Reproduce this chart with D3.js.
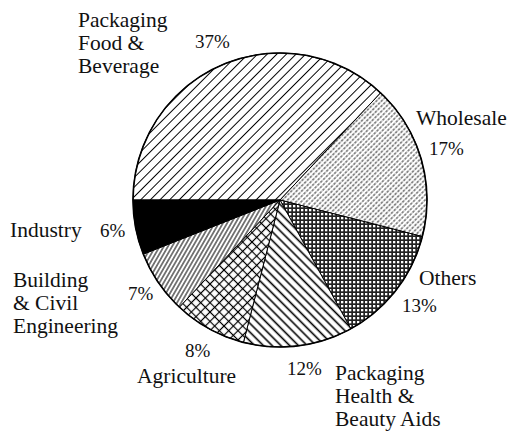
<!DOCTYPE html>
<html>
<head>
<meta charset="utf-8">
<script src="https://cdn.jsdelivr.net/npm/d3@7"></script>
<style>
  html, body { margin: 0; padding: 0; background: #fff; }
  svg { display: block; }
  text { font-family: "Liberation Serif", "Times New Roman", serif; fill: #111; }
</style>
</head>
<body>
<svg id="chart" width="512" height="433"></svg>
<script>
// Market share by end use (%)
const categories = [
  "Packaging Food & Beverage",
  "Wholesale",
  "Others",
  "Packaging Health & Beauty Aids",
  "Agriculture",
  "Building & Civil Engineering",
  "Industry"
];
const shares = [37, 17, 13, 12, 8, 7, 6];
const nameLines = [
  ["Packaging", "Food &", "Beverage"],
  ["Wholesale"],
  ["Others"],
  ["Packaging", "Health &", "Beauty Aids"],
  ["Agriculture"],
  ["Building", "& Civil", "Engineering"],
  ["Industry"]
];
const fills = ["diagFwd", "dashFwd", "checker", "diagBack", "crossHatch", "diagSteep", "solid"];

// Where each name block and each percentage sits, relative to the pie centre
const labelLayout = [
  { name: [-202, -173], pct: [-85, -152] },
  { name: [136, -75],   pct: [149, -45] },
  { name: [139, 85],    pct: [122, 112] },
  { name: [55, 180],    pct: [7, 175] },
  { name: [-143, 183],  pct: [-95, 157] },
  { name: [-267, 87],   pct: [-152, 100] },
  { name: [-270, 37],   pct: [-180, 37] }
];

const svg = d3.select("#chart");
const cx = 280, cy = 200, radius = 147;
const lineStep = 23;

// Hatch patterns
const defs = svg.append("defs");
function linePattern(id, spacing, angle, width, dash) {
  const p = defs.append("pattern")
    .attr("id", id)
    .attr("patternUnits", "userSpaceOnUse")
    .attr("width", spacing).attr("height", spacing)
    .attr("patternTransform", `rotate(${angle})`);
  p.append("rect").attr("width", spacing).attr("height", spacing).attr("fill", "#fff");
  const l = p.append("line")
    .attr("x1", spacing / 2).attr("y1", -1)
    .attr("x2", spacing / 2).attr("y2", spacing + 1)
    .attr("stroke", "#000").attr("stroke-width", width);
  if (dash) l.attr("stroke-dasharray", dash);
  return p;
}
linePattern("diagFwd", 6.8, 45, 1);
linePattern("diagBack", 6.2, -45, 1.6);
linePattern("diagSteep", 3.6, 30, 1);
{
  const p = defs.append("pattern")
    .attr("id", "dashFwd").attr("patternUnits", "userSpaceOnUse")
    .attr("width", 3.6).attr("height", 4).attr("patternTransform", "rotate(45)");
  p.append("rect").attr("width", 3.6).attr("height", 4).attr("fill", "#fff");
  p.append("line").attr("x1", 1.8).attr("y1", 0.4).attr("x2", 1.8).attr("y2", 3.2)
    .attr("stroke", "#222").attr("stroke-width", 1);
}
{
  const p = defs.append("pattern")
    .attr("id", "checker").attr("patternUnits", "userSpaceOnUse")
    .attr("width", 4).attr("height", 4);
  p.append("rect").attr("width", 4).attr("height", 4).attr("fill", "#222");
  p.append("rect").attr("x", 1).attr("y", 1).attr("width", 2.3).attr("height", 2.3).attr("fill", "#fff");
}
{
  const s = 6.6;
  const p = defs.append("pattern")
    .attr("id", "crossHatch").attr("patternUnits", "userSpaceOnUse")
    .attr("width", s).attr("height", s).attr("patternTransform", "rotate(45)");
  p.append("rect").attr("width", s).attr("height", s).attr("fill", "#fff");
  p.append("line").attr("x1", s / 2).attr("y1", -1).attr("x2", s / 2).attr("y2", s + 1)
    .attr("stroke", "#000").attr("stroke-width", 1.2);
  p.append("line").attr("x1", -1).attr("y1", s / 2).attr("x2", s + 1).attr("y2", s / 2)
    .attr("stroke", "#000").attr("stroke-width", 1.2);
}

function fillFor(i) {
  return fills[i] === "solid" ? "#000" : `url(#${fills[i]})`;
}

const pie = d3.pie().sort(null)
  .startAngle(-Math.PI / 2).endAngle(3 * Math.PI / 2)
  .value(d => d);
const arc = d3.arc().innerRadius(0).outerRadius(radius);

const g = svg.append("g").attr("transform", `translate(${cx},${cy})`);

g.selectAll("path.slice")
  .data(pie(shares))
  .join("path")
  .attr("class", "slice")
  .attr("d", arc)
  .attr("fill", (d, i) => fillFor(i))
  .attr("stroke", "#000")
  .attr("stroke-width", 1)
  .attr("stroke-linejoin", "round");

g.append("circle").attr("r", radius)
  .attr("fill", "none").attr("stroke", "#000").attr("stroke-width", 1.6);

// Category names and their shares
const labels = svg.append("g").attr("transform", `translate(${cx},${cy})`);
categories.forEach((c, i) => {
  const [nx, ny] = labelLayout[i].name;
  const t = labels.append("text")
    .attr("x", nx).attr("y", ny)
    .attr("font-size", 21.5);
  nameLines[i].forEach((ln, k) => {
    t.append("tspan").attr("x", nx).attr("y", ny + k * lineStep).text(ln);
  });
  const [px, py] = labelLayout[i].pct;
  labels.append("text")
    .attr("x", px).attr("y", py)
    .attr("font-size", 19)
    .text(shares[i] + "%");
});
</script>
</body>
</html>
